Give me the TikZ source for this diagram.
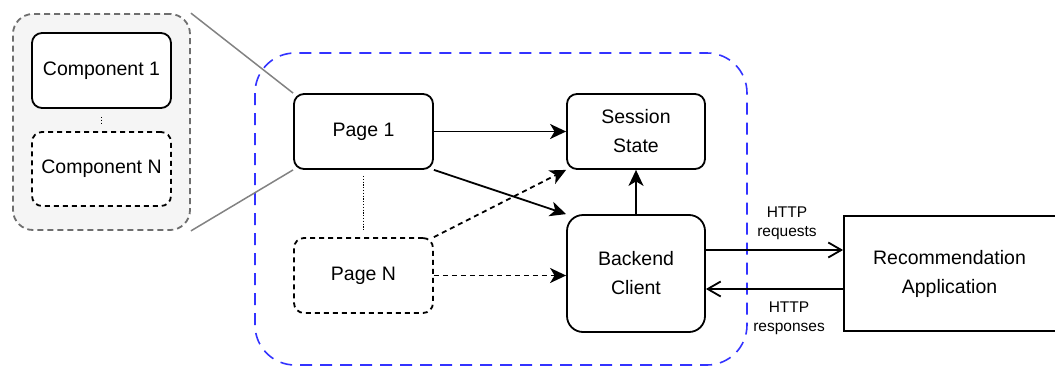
\documentclass[tikz,border=0pt]{standalone}
\usepackage{fontspec}
\setmainfont{Liberation Sans}
\usetikzlibrary{arrows.meta}

\definecolor{frameblue}{RGB}{51,51,255}
\definecolor{paneledge}{RGB}{110,110,110}
\definecolor{panelfill}{RGB}{245,245,245}
\definecolor{zoomline}{RGB}{130,130,130}

\begin{document}
\begin{tikzpicture}[x=1pt,y=-1pt,
  boxbase/.style={draw=black, line width=1.8pt, fill=white, inner sep=0pt,
    align=center, font=\fontsize{19.5}{29}\selectfont},
  roundbox/.style={boxbase, rounded corners=10pt},
  dashbox/.style={roundbox, dash pattern=on 5pt off 4pt},
  bigbox/.style={boxbase, rounded corners=16pt},
  flow/.style={line width=1.8pt, -{Stealth[length=16pt,width=15pt,inset=4.5pt]}},
  dashflow/.style={flow, dash pattern=on 5pt off 4pt},
  http/.style={line width=1.8pt, -{Straight Barb[length=13pt,width=15pt,line width=1.8pt]}},
  httplabel/.style={align=center, inner sep=0pt, font=\fontsize{15.5}{19}\selectfont},
  dotlink/.style={line width=1.4pt, dash pattern=on 1.2pt off 1.6pt},
]
\useasboundingbox (0,0) rectangle (1055,367);

% component panel
\node[draw=paneledge, fill=panelfill, line width=1.8pt, rounded corners=20pt,
      dash pattern=on 6pt off 4pt, minimum width=177pt, minimum height=216pt,
      inner sep=0pt] (panel) at (101.5,122) {};
\node[roundbox, minimum width=139pt, minimum height=75pt] (c1) at (101.5,70.5) {Component 1};
\node[dashbox, minimum width=139pt, minimum height=74pt] (cN) at (101.5,169) {Component N};
\draw[dotlink, shorten <=8pt, shorten >=8pt] (c1.south) -- (cN.north);

% application frame
\draw[frameblue, line width=1.6pt, rounded corners=40pt, dash pattern=on 12pt off 8pt]
  (255,53) rectangle (747,365);

\node[roundbox, minimum width=139pt, minimum height=75pt] (p1) at (363.5,131.5) {Page 1};
\node[dashbox, minimum width=139pt, minimum height=75pt] (pN) at (363.5,275.5) {Page N};
\node[roundbox, minimum width=138pt, minimum height=75pt] (ss) at (636,131.5) {Session\\State};
\node[bigbox, minimum width=138pt, minimum height=117pt] (bc) at (636,273.5) {Backend\\Client};
\node[boxbase, minimum width=214pt, minimum height=115pt, text width=211pt] (rec) at (951,273.5)
  {\hspace*{-3pt}Recommendation\\\hspace*{-3pt}Application};

% zoom lines from the panel to the page
\draw[zoomline, line width=1.5pt] (panel.north east) -- (p1.north west);
\draw[zoomline, line width=1.5pt] (panel.south east) -- (p1.south west);

% flows inside the application
\draw[dotlink, shorten <=6pt, shorten >=6pt] (p1.south) -- (pN.north);
\draw[flow] (p1.east) -- (ss.west);
\draw[flow] (p1.south east) -- (bc.north west);
\draw[dashflow] (pN.north east) -- (ss.south west);
\draw[dashflow] (pN.east) -- (pN.east -| bc.west);
\draw[flow] (bc.north) -- (ss.south);

% HTTP traffic
\draw[http] (bc.east |- 0,250) -- (rec.west |- 0,250);
\draw[http] (rec.west |- 0,289) -- (bc.east |- 0,289);
\node[httplabel] (req) at (787,223) {HTTP\\requests};
\node[httplabel] (resp) at (789,318) {HTTP\\responses};
\end{tikzpicture}
\end{document}
